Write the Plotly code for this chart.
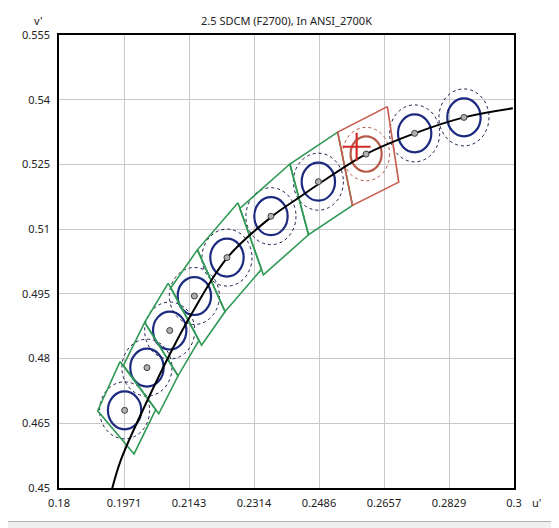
import numpy as np
import plotly.graph_objects as go

# ANSI quadrangle corners (u', v'), 6500K .. 2700K
quad_names = ["6500K", "5700K", "5000K", "4500K", "4000K", "3500K", "3000K", "2700K"]
quad_u = [
    [0.1961, 0.1902, 0.1998, 0.2055],
    [0.2026, 0.1970, 0.2063, 0.2114],
    [0.2088, 0.2026, 0.2114, 0.2169],
    [0.2165, 0.2095, 0.2176, 0.2238],
    [0.2272, 0.2165, 0.2238, 0.2334],
    [0.2409, 0.2277, 0.2339, 0.2458],
    [0.2535, 0.2409, 0.2458, 0.2574],
    [0.2666, 0.2535, 0.2574, 0.2696],
]
quad_v = [
    [0.4793, 0.4679, 0.4579, 0.4682],
    [0.4884, 0.4784, 0.4672, 0.4760],
    [0.4975, 0.4884, 0.4760, 0.4842],
    [0.5052, 0.4964, 0.4831, 0.4909],
    [0.5161, 0.5052, 0.4909, 0.5007],
    [0.5251, 0.5148, 0.4994, 0.5087],
    [0.5325, 0.5251, 0.5087, 0.5155],
    [0.5384, 0.5325, 0.5155, 0.5209],
]
quad_colors = ["#2f9a55"] * 7 + ["#c85a4a"]

# target points (circle centres)
center_u = [0.1973, 0.2032, 0.2092, 0.2157, 0.2243, 0.2359, 0.2484, 0.2610, 0.2738, 0.2868]
center_v = [0.4680, 0.4779, 0.4865, 0.4945, 0.5034, 0.5130, 0.5210, 0.5274, 0.5322, 0.5359]
selected = 7  # ANSI_2700K

inner_r = 0.0044
outer_r = 0.0066
sel_inner_r = 0.0041
sel_outer_r = 0.0062

# black locus curve
locus_u = [0.1940, 0.1964, 0.2032, 0.2098, 0.2146, 0.2243, 0.2361, 0.2436, 0.2484,
           0.2610, 0.2738, 0.2868, 0.2997]
locus_v = [0.4498, 0.4567, 0.4701, 0.4820, 0.4898, 0.5033, 0.5129, 0.5175, 0.5204,
           0.5274, 0.5322, 0.5359, 0.5380]

# measured point
meas_u = [0.2585]
meas_v = [0.5291]

x_ticktext = ["0.18", "0.1971", "0.2143", "0.2314", "0.2486", "0.2657", "0.2829", "0.3"]
y_ticktext = ["0.45", "0.465", "0.48", "0.495", "0.51", "0.525", "0.54", "0.555"]

FONT = "Noto Sans"

fig = go.Figure()

for qu, qv, c in zip(quad_u, quad_v, quad_colors):
    fig.add_trace(go.Scatter(x=qu + qu[:1], y=qv + qv[:1], mode="lines",
                             line=dict(color=c, width=1.6), hoverinfo="skip"))

fig.add_trace(go.Scatter(x=locus_u, y=locus_v, mode="lines",
                         line=dict(color="black", width=2, shape="spline"), hoverinfo="skip"))

fig.add_trace(go.Scatter(x=meas_u, y=meas_v, mode="markers",
                         marker=dict(symbol="cross-thin", size=20,
                                     line=dict(color="#d42a2a", width=2.2)),
                         hoverinfo="skip"))

fig.add_trace(go.Scatter(x=center_u, y=center_v, mode="markers",
                         marker=dict(size=6, color="#b0b0b0", line=dict(color="#404040", width=1)),
                         hoverinfo="skip"))

shapes = []
for i, (cu, cv) in enumerate(zip(center_u, center_v)):
    if i == selected:
        r1, r2, col1, col2 = sel_inner_r, sel_outer_r, "#b85a4a", "#b05040"
    else:
        r1, r2, col1, col2 = inner_r, outer_r, "#1c2a80", "#1a1a4a"
    shapes.append(dict(type="circle", xref="x", yref="y", layer="between",
                       x0=cu - r2, x1=cu + r2, y0=cv - r2, y1=cv + r2,
                       line=dict(color=col2, width=1, dash="dot")))
    shapes.append(dict(type="circle", xref="x", yref="y", layer="between",
                       x0=cu - r1, x1=cu + r1, y0=cv - r1, y1=cv + r1,
                       line=dict(color=col1, width=2.2)))

# window panel
shapes.append(dict(type="rect", xref="paper", yref="paper", layer="below",
                   x0=-0.115, x1=1.083, y0=-0.074, y1=1.068,
                   fillcolor="white", line=dict(color="#b0b0b0", width=1)))

# page body keeps an 8px margin, so the figure is 8px smaller than the window
fig.update_layout(
    shapes=shapes,
    width=551, height=520, autosize=False,
    margin=dict(l=51, r=45, t=27, b=40),
    paper_bgcolor="#f0f0f0", plot_bgcolor="white",
    showlegend=False,
    font=dict(family=FONT, size=11, color="#222222"),
    annotations=[
        dict(text="2.5 SDCM (F2700), In ANSI_2700K", xref="paper", yref="paper",
             x=0.5, y=1.031, xanchor="center", yanchor="middle", showarrow=False,
             font=dict(family=FONT, size=11, color="#222222")),
        dict(text="v'", xref="paper", yref="paper", x=-0.045, y=1.033,
             xanchor="center", yanchor="middle", showarrow=False),
        dict(text="u'", xref="paper", yref="paper", x=1.049, y=-0.031,
             xanchor="center", yanchor="middle", showarrow=False),
    ],
)

fig.update_xaxes(range=[0.18, 0.3], tickvals=np.linspace(0.18, 0.3, 8), ticktext=x_ticktext,
                 showgrid=True, gridcolor="#c8c8c8", gridwidth=1, zeroline=False,
                 showline=True, mirror=True, linecolor="black", linewidth=1.5,
                 ticks="", ticklabelstandoff=4)
fig.update_yaxes(range=[0.45, 0.555], tickvals=np.linspace(0.45, 0.555, 8), ticktext=y_ticktext,
                 showgrid=True, gridcolor="#c8c8c8", gridwidth=1, zeroline=False,
                 showline=True, mirror=True, linecolor="black", linewidth=1.5,
                 ticks="", ticklabelstandoff=5)

fig.write_html("out.html")
